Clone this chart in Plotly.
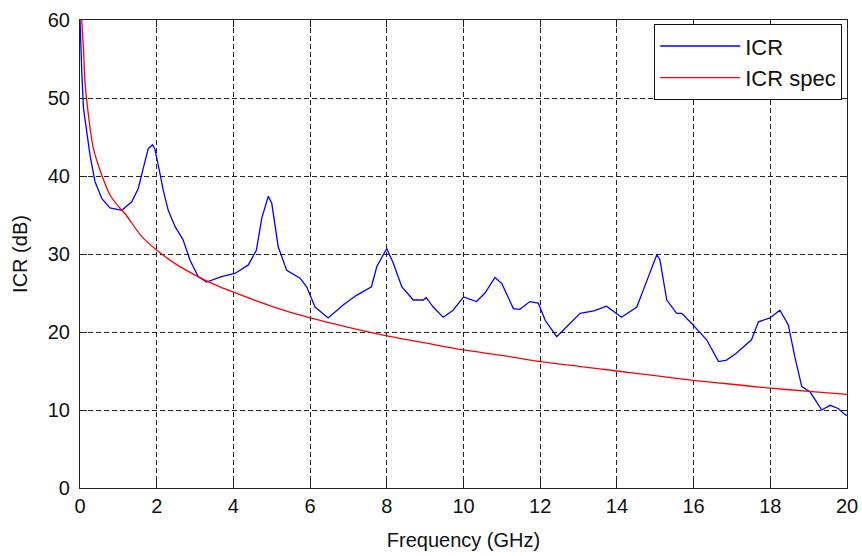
import plotly.graph_objects as go

icr_freq = [0.0, 0.02, 0.05, 0.09, 0.17, 0.26, 0.39, 0.57, 0.78, 1.09, 1.35, 1.52, 1.65, 1.78,
            1.89, 1.95, 2.09, 2.17, 2.30, 2.48, 2.69, 2.87, 3.08, 3.30, 3.69, 4.04, 4.39, 4.60,
            4.74, 4.91, 5.00, 5.17, 5.39, 5.74, 5.91, 6.13, 6.47, 6.87, 7.21, 7.60, 7.74, 8.00,
            8.17, 8.39, 8.69, 8.95, 9.03, 9.21, 9.47, 9.73, 10.00, 10.34, 10.56, 10.82, 11.00,
            11.30, 11.47, 11.73, 11.95, 12.13, 12.43, 12.65, 13.04, 13.40, 13.73, 14.12, 14.52,
            14.69, 14.86, 15.04, 15.12, 15.30, 15.56, 15.69, 15.95, 16.34, 16.65, 16.86, 17.12,
            17.51, 17.69, 17.99, 18.25, 18.47, 18.64, 18.82, 19.04, 19.34, 19.56, 19.77, 19.95, 20.0]
icr_db = [60.0, 56.4, 52.9, 48.7, 45.7, 42.7, 39.3, 37.1, 35.9, 35.6, 36.7, 38.4, 41.0, 43.5,
          44.0, 43.5, 40.2, 38.2, 35.6, 33.5, 31.8, 29.2, 27.1, 26.4, 27.1, 27.5, 28.6, 30.5,
          34.6, 37.4, 36.5, 30.9, 27.9, 26.9, 25.8, 23.2, 21.8, 23.5, 24.7, 25.8, 28.4, 30.7,
          28.8, 25.8, 24.1, 24.1, 24.4, 23.2, 21.9, 22.8, 24.5, 23.9, 25.0, 27.0, 26.2,
          23.0, 22.9, 23.9, 23.7, 21.5, 19.4, 20.5, 22.4, 22.7, 23.3, 21.9, 23.2,
          25.4, 27.5, 29.9, 29.3, 24.1, 22.4, 22.4, 21.1, 19.0, 16.2, 16.4, 17.3,
          19.0, 21.3, 21.8, 22.8, 20.9, 16.8, 13.0, 12.3, 10.0, 10.6, 10.2, 9.4, 9.3]

# ICR spec curve
spec_freq = [0.02, 0.09, 0.13, 0.22, 0.35, 0.57, 0.78, 1.0, 1.2, 1.6, 2.0, 2.5, 3.0, 3.5, 4.0,
             5.0, 6.0, 7.0, 8.0, 9.0, 10.0, 11.0, 12.0, 13.0, 14.0, 15.0, 16.0, 17.0, 18.0,
             19.0, 20.0]
spec_db = [62.0, 56.4, 52.1, 47.8, 43.5, 40.1, 37.6, 36.1, 35.0, 32.3, 30.5, 28.7, 27.3, 26.1,
           25.1, 23.3, 21.8, 20.6, 19.5, 18.6, 17.7, 17.0, 16.2, 15.6, 15.0, 14.4, 13.8, 13.3,
           12.8, 12.4, 12.0]

x_ticks = [0, 2, 4, 6, 8, 10, 12, 14, 16, 18, 20]
y_ticks = [0, 10, 20, 30, 40, 50, 60]

FONT = "Liberation Sans, Arial, sans-serif"
TXT = "#111111"

fig = go.Figure()
fig.add_trace(go.Scatter(x=icr_freq, y=icr_db, mode="lines", name="ICR",
                         line=dict(color="#0000ff", width=1.3)))
fig.add_trace(go.Scatter(x=spec_freq, y=spec_db, mode="lines", name="ICR spec",
                         line=dict(color="#ff0000", width=1.3, shape="spline", smoothing=0.8)))

axis_common = dict(
    showline=True, linecolor="#222222", linewidth=1.2, mirror="ticks",
    ticks="inside", ticklen=7, tickcolor="#222222", tickwidth=1,
    showgrid=True, gridcolor="#222222", gridwidth=1, griddash="5px,3px",
    zeroline=False, automargin=False,
    tickfont=dict(size=20, color=TXT, family=FONT),
)

fig.update_xaxes(range=[0, 20], tickvals=x_ticks, ticktext=[str(t) for t in x_ticks],
                 title=dict(text="Frequency (GHz)", font=dict(size=20, color=TXT, family=FONT),
                            standoff=16),
                 **axis_common)
fig.update_yaxes(range=[0, 60], tickvals=y_ticks, ticktext=[str(t) for t in y_ticks],
                 ticklabelstandoff=5,
                 title=dict(text="ICR (dB)", font=dict(size=20, color=TXT, family=FONT),
                            standoff=14),
                 **axis_common)

fig.update_layout(
    width=862, height=556,
    margin=dict(l=80, r=15, t=20, b=68),
    paper_bgcolor="white", plot_bgcolor="white",
    font=dict(family=FONT, size=20, color=TXT),
    showlegend=True,
    legend=dict(x=0.9935, y=0.9915, xanchor="right", yanchor="top",
                bgcolor="white", bordercolor="#111111", borderwidth=1.2,
                font=dict(size=22, family=FONT, color=TXT),
                itemwidth=80, tracegroupgap=0),
)

fig.write_html("out.html", config={"displayModeBar": False})

# remove default page margin so the chart sits at the window origin
with open("out.html", "r", encoding="utf-8") as fh:
    html = fh.read()
html = html.replace("<body>", '<body style="margin:0;padding:0;overflow:hidden">', 1)
with open("out.html", "w", encoding="utf-8") as fh:
    fh.write(html)
